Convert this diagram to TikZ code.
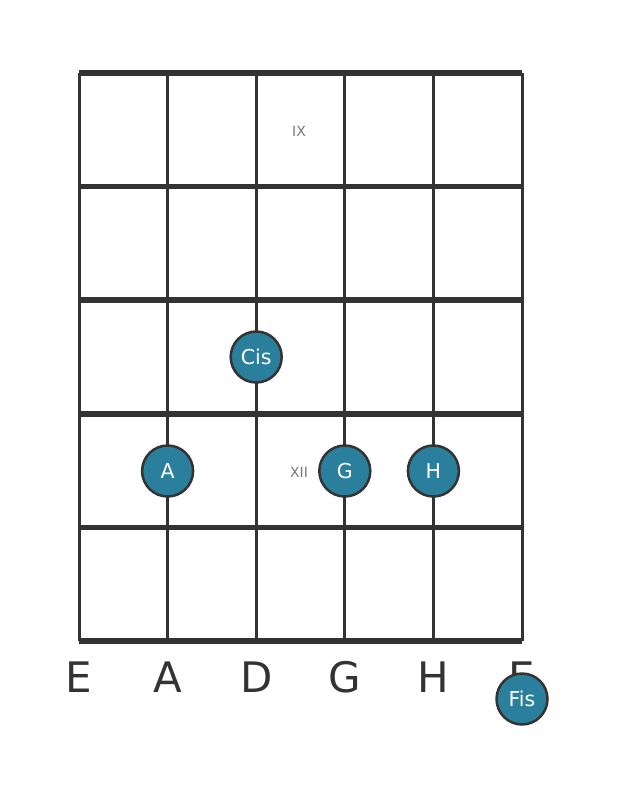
\documentclass[tikz,border=0pt]{standalone}
\usepackage{fontspec}
\setmainfont{DejaVu Sans}
\usetikzlibrary{calc,positioning}

\definecolor{ink}{RGB}{51,51,51}
\definecolor{dotfill}{RGB}{42,127,157}
\definecolor{roman}{RGB}{120,120,120}

\begin{document}
\begin{tikzpicture}
  [x=1pt,y=-1pt]

% page frame
\useasboundingbox (0,0) rectangle (620,797);

% define styles
\tikzstyle{fretline} = [draw=ink, line width=5.5pt];
\tikzstyle{stringline} = [draw=ink, line width=3pt];
\tikzstyle{note} = [circle, draw=ink, line width=2.5pt, fill=dotfill,
  minimum size=51pt, inner sep=0pt, text=white, font=\fontsize{20.5}{20.5}\selectfont];
\tikzstyle{strname} = [text=ink, font=\fontsize{42}{42}\selectfont];
\tikzstyle{fretmark} = [text=roman, font=\fontsize{14}{14}\selectfont];

% define new commands
\newcommand{\noteAt}[3]{
  \node[note] (#1) at (#2) {#3};
}

% grid coordinates
\foreach \i/\x in {0/79,1/167.6,2/256.2,3/344.8,4/433.4,5/522}{
  \coordinate (t\i) at (\x,73);
  \coordinate (b\i) at (\x,641);
}

% draw strings
\foreach \i in {0,...,5}
  \draw[stringline] (t\i) -- (b\i);

% draw frets
\foreach \y in {73,186.6,300.2,413.8,527.4,641}
  \draw[fretline] (79,\y) -- (522,\y);

% position marks
\node[fretmark] (ix) at (299,131) {IX};
\node[fretmark] (xii) at (299,472) {XII};

% string names
\foreach \i/\n in {0/E,1/A,2/D,3/G,4/H,5/E}
  \node[strname] (n\i) at ($(b\i)+(0,36)$) {\n};

% draw notes
\noteAt{cis}{256.2,357}{Cis}
\noteAt{a}{167.6,471}{A}
\noteAt{g}{344.8,471}{G}
\noteAt{h}{433.4,471}{H}
\noteAt{fis}{522,699}{Fis}

\end{tikzpicture}
\end{document}
